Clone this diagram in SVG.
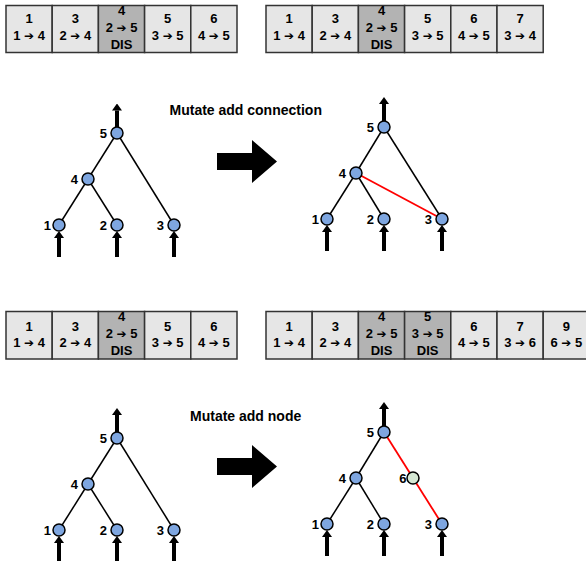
<svg xmlns="http://www.w3.org/2000/svg" width="586" height="561" viewBox="0 0 586 561">
<style>
text{font-family:"Liberation Sans",Arial,sans-serif;font-weight:bold;fill:#000}
.g{font-size:13px;text-anchor:middle}
.a{font-family:"DejaVu Sans",sans-serif;font-size:12px;font-weight:normal}
.lab{font-size:13px;text-anchor:end}
.title{font-size:14px}
.cell{fill:#e6e6e6;stroke:#333;stroke-width:1.5}
.dis{fill:#b3b3b3;stroke:#333;stroke-width:1.5}
.n{fill:#7ea6e0;stroke:#000;stroke-width:1.5}
.n6{fill:#d5e8d4;stroke:#000;stroke-width:1.5}
.e{stroke:#000;stroke-width:1.5;fill:none}
.r{stroke:#ff0000;stroke-width:1.8;fill:none}
.io{stroke:#000;stroke-width:4;fill:none;marker-end:url(#ah)}
.big{fill:#000}
</style>
<defs>
<marker id="ah" markerUnits="userSpaceOnUse" markerWidth="7" markerHeight="10" viewBox="0 0 7 10" refX="0" refY="5" orient="auto">
<path d="M0,0 L7,5 L0,10 z" fill="#000"/>
</marker>
</defs>

<!-- Genome top-left -->
<g id="genome-tl">
<rect class="cell" x="6" y="5.5" width="46.2" height="47"/>
<rect class="cell" x="52.2" y="5.5" width="46.2" height="47"/>
<rect class="dis" x="98.4" y="5.5" width="46.2" height="47"/>
<rect class="cell" x="144.6" y="5.5" width="46.2" height="47"/>
<rect class="cell" x="190.8" y="5.5" width="46.2" height="47"/>
<text class="g" x="29.1" y="23">1</text><text class="g" x="29.1" y="40">1 <tspan class="a">➔</tspan> 4</text>
<text class="g" x="75.3" y="23">3</text><text class="g" x="75.3" y="40">2 <tspan class="a">➔</tspan> 4</text>
<text class="g" x="121.5" y="15">4</text><text class="g" x="121.5" y="32">2 <tspan class="a">➔</tspan> 5</text><text class="g" x="121.5" y="48.5">DIS</text>
<text class="g" x="167.7" y="23">5</text><text class="g" x="167.7" y="40">3 <tspan class="a">➔</tspan> 5</text>
<text class="g" x="213.9" y="23">6</text><text class="g" x="213.9" y="40">4 <tspan class="a">➔</tspan> 5</text>
</g>

<!-- Genome top-right -->
<g id="genome-tr">
<rect class="cell" x="266" y="5.5" width="46.2" height="47"/>
<rect class="cell" x="312.2" y="5.5" width="46.2" height="47"/>
<rect class="dis" x="358.4" y="5.5" width="46.2" height="47"/>
<rect class="cell" x="404.6" y="5.5" width="46.2" height="47"/>
<rect class="cell" x="450.8" y="5.5" width="46.2" height="47"/>
<rect class="cell" x="497" y="5.5" width="46.2" height="47"/>
<text class="g" x="289.1" y="23">1</text><text class="g" x="289.1" y="40">1 <tspan class="a">➔</tspan> 4</text>
<text class="g" x="335.3" y="23">3</text><text class="g" x="335.3" y="40">2 <tspan class="a">➔</tspan> 4</text>
<text class="g" x="381.5" y="15">4</text><text class="g" x="381.5" y="32">2 <tspan class="a">➔</tspan> 5</text><text class="g" x="381.5" y="48.5">DIS</text>
<text class="g" x="427.7" y="23">5</text><text class="g" x="427.7" y="40">3 <tspan class="a">➔</tspan> 5</text>
<text class="g" x="473.9" y="23">6</text><text class="g" x="473.9" y="40">4 <tspan class="a">➔</tspan> 5</text>
<text class="g" x="520.1" y="23">7</text><text class="g" x="520.1" y="40">3 <tspan class="a">➔</tspan> 4</text>
</g>

<!-- Genome bottom-left -->
<g id="genome-bl">
<rect class="cell" x="6" y="311.5" width="46.2" height="47.5"/>
<rect class="cell" x="52.2" y="311.5" width="46.2" height="47.5"/>
<rect class="dis" x="98.4" y="311.5" width="46.2" height="47.5"/>
<rect class="cell" x="144.6" y="311.5" width="46.2" height="47.5"/>
<rect class="cell" x="190.8" y="311.5" width="46.2" height="47.5"/>
<text class="g" x="29.1" y="330.5">1</text><text class="g" x="29.1" y="347">1 <tspan class="a">➔</tspan> 4</text>
<text class="g" x="75.3" y="330.5">3</text><text class="g" x="75.3" y="347">2 <tspan class="a">➔</tspan> 4</text>
<text class="g" x="121.5" y="321">4</text><text class="g" x="121.5" y="338">2 <tspan class="a">➔</tspan> 5</text><text class="g" x="121.5" y="354.5">DIS</text>
<text class="g" x="167.7" y="330.5">5</text><text class="g" x="167.7" y="347">3 <tspan class="a">➔</tspan> 5</text>
<text class="g" x="213.9" y="330.5">6</text><text class="g" x="213.9" y="347">4 <tspan class="a">➔</tspan> 5</text>
</g>

<!-- Genome bottom-right -->
<g id="genome-br">
<rect class="cell" x="266" y="311.5" width="46.2" height="47.5"/>
<rect class="cell" x="312.2" y="311.5" width="46.2" height="47.5"/>
<rect class="dis" x="358.4" y="311.5" width="46.2" height="47.5"/>
<rect class="dis" x="404.6" y="311.5" width="46.2" height="47.5"/>
<rect class="cell" x="450.8" y="311.5" width="46.2" height="47.5"/>
<rect class="cell" x="497" y="311.5" width="46.2" height="47.5"/>
<rect class="cell" x="543.2" y="311.5" width="46.2" height="47.5"/>
<text class="g" x="289.1" y="330.5">1</text><text class="g" x="289.1" y="347">1 <tspan class="a">➔</tspan> 4</text>
<text class="g" x="335.3" y="330.5">3</text><text class="g" x="335.3" y="347">2 <tspan class="a">➔</tspan> 4</text>
<text class="g" x="381.5" y="321">4</text><text class="g" x="381.5" y="338">2 <tspan class="a">➔</tspan> 5</text><text class="g" x="381.5" y="354.5">DIS</text>
<text class="g" x="427.7" y="321">5</text><text class="g" x="427.7" y="338">3 <tspan class="a">➔</tspan> 5</text><text class="g" x="427.7" y="354.5">DIS</text>
<text class="g" x="473.9" y="330.5">6</text><text class="g" x="473.9" y="347">4 <tspan class="a">➔</tspan> 5</text>
<text class="g" x="520.1" y="330.5">7</text><text class="g" x="520.1" y="347">3 <tspan class="a">➔</tspan> 6</text>
<text class="g" x="566.3" y="330.5">9</text><text class="g" x="566.3" y="347">6 <tspan class="a">➔</tspan> 5</text>
</g>

<!-- Titles and big arrows -->
<g id="label-conn"><text class="title" x="169.5" y="115">Mutate add connection</text></g>
<g id="label-node"><text class="title" x="190" y="420.5">Mutate add node</text></g>
<g id="bigarrow-top"><polygon class="big" points="217,153 252,153 252,140 277,161.5 252,183 252,170 217,170"/></g>
<g id="bigarrow-bottom"><polygon class="big" points="217,458 252,458 252,445 277,466.5 252,488 252,475 217,475"/></g>

<!-- Connectors -->
<g id="connectors">
<!-- top-left tree -->
<line class="e" x1="117" y1="133" x2="88" y2="179"/>
<line class="e" x1="117" y1="133" x2="174" y2="225"/>
<line class="e" x1="88" y1="179" x2="59" y2="225"/>
<line class="e" x1="88" y1="179" x2="117" y2="225"/>
<line class="io" x1="117" y1="127" x2="117" y2="110.5"/>
<line class="io" x1="59" y1="257" x2="59" y2="238"/>
<line class="io" x1="117" y1="257" x2="117" y2="238"/>
<line class="io" x1="174" y1="257" x2="174" y2="238"/>
<!-- top-right tree -->
<line class="e" x1="384" y1="127" x2="356" y2="173"/>
<line class="e" x1="384" y1="127" x2="442" y2="219"/>
<line class="e" x1="356" y1="173" x2="327" y2="219"/>
<line class="e" x1="356" y1="173" x2="384" y2="219"/>
<line class="r" x1="356" y1="173" x2="442" y2="219"/>
<line class="io" x1="384" y1="121" x2="384" y2="104"/>
<line class="io" x1="327" y1="251" x2="327" y2="232"/>
<line class="io" x1="384" y1="251" x2="384" y2="232"/>
<line class="io" x1="442" y1="251" x2="442" y2="232"/>
<!-- bottom-left tree -->
<line class="e" x1="117" y1="438" x2="88" y2="484"/>
<line class="e" x1="117" y1="438" x2="174" y2="530"/>
<line class="e" x1="88" y1="484" x2="59" y2="530"/>
<line class="e" x1="88" y1="484" x2="117" y2="530"/>
<line class="io" x1="117" y1="432" x2="117" y2="415"/>
<line class="io" x1="59" y1="562" x2="59" y2="543"/>
<line class="io" x1="117" y1="562" x2="117" y2="543"/>
<line class="io" x1="174" y1="562" x2="174" y2="543"/>
<!-- bottom-right tree -->
<line class="e" x1="384" y1="432" x2="356" y2="478"/>
<line class="e" x1="356" y1="478" x2="327" y2="524"/>
<line class="e" x1="356" y1="478" x2="384" y2="524"/>
<line class="r" x1="384" y1="432" x2="413" y2="478"/>
<line class="r" x1="413" y1="478" x2="442" y2="524"/>
<line class="io" x1="384" y1="426" x2="384" y2="409"/>
<line class="io" x1="327" y1="556" x2="327" y2="537"/>
<line class="io" x1="384" y1="556" x2="384" y2="537"/>
<line class="io" x1="442" y1="556" x2="442" y2="537"/>
</g>

<!-- Nodes top-left -->
<g id="tl-n5"><circle class="n" cx="117" cy="133" r="6"/><text class="lab" x="107" y="138">5</text></g>
<g id="tl-n4"><circle class="n" cx="88" cy="179" r="6"/><text class="lab" x="78" y="184">4</text></g>
<g id="tl-n1"><circle class="n" cx="59" cy="225" r="6"/><text class="lab" x="51" y="230">1</text></g>
<g id="tl-n2"><circle class="n" cx="117" cy="225" r="6"/><text class="lab" x="107" y="230">2</text></g>
<g id="tl-n3"><circle class="n" cx="174" cy="225" r="6"/><text class="lab" x="164" y="230">3</text></g>
<!-- Nodes top-right -->
<g id="tr-n5"><circle class="n" cx="384" cy="127" r="6"/><text class="lab" x="374" y="132">5</text></g>
<g id="tr-n4"><circle class="n" cx="356" cy="173" r="6"/><text class="lab" x="346" y="178">4</text></g>
<g id="tr-n1"><circle class="n" cx="327" cy="219" r="6"/><text class="lab" x="319" y="224">1</text></g>
<g id="tr-n2"><circle class="n" cx="384" cy="219" r="6"/><text class="lab" x="374" y="224">2</text></g>
<g id="tr-n3"><circle class="n" cx="442" cy="219" r="6"/><text class="lab" x="432" y="224">3</text></g>
<!-- Nodes bottom-left -->
<g id="bl-n5"><circle class="n" cx="117" cy="438" r="6"/><text class="lab" x="107" y="443">5</text></g>
<g id="bl-n4"><circle class="n" cx="88" cy="484" r="6"/><text class="lab" x="78" y="489">4</text></g>
<g id="bl-n1"><circle class="n" cx="59" cy="530" r="6"/><text class="lab" x="51" y="535">1</text></g>
<g id="bl-n2"><circle class="n" cx="117" cy="530" r="6"/><text class="lab" x="107" y="535">2</text></g>
<g id="bl-n3"><circle class="n" cx="174" cy="530" r="6"/><text class="lab" x="164" y="535">3</text></g>
<!-- Nodes bottom-right -->
<g id="br-n5"><circle class="n" cx="384" cy="432" r="6"/><text class="lab" x="374" y="437">5</text></g>
<g id="br-n4"><circle class="n" cx="356" cy="478" r="6"/><text class="lab" x="346" y="483">4</text></g>
<g id="br-n6"><circle class="n6" cx="413" cy="478" r="6"/><text class="lab" x="406.5" y="483">6</text></g>
<g id="br-n1"><circle class="n" cx="327" cy="524" r="6"/><text class="lab" x="319" y="529">1</text></g>
<g id="br-n2"><circle class="n" cx="384" cy="524" r="6"/><text class="lab" x="374" y="529">2</text></g>
<g id="br-n3"><circle class="n" cx="442" cy="524" r="6"/><text class="lab" x="432" y="529">3</text></g>
</svg>
